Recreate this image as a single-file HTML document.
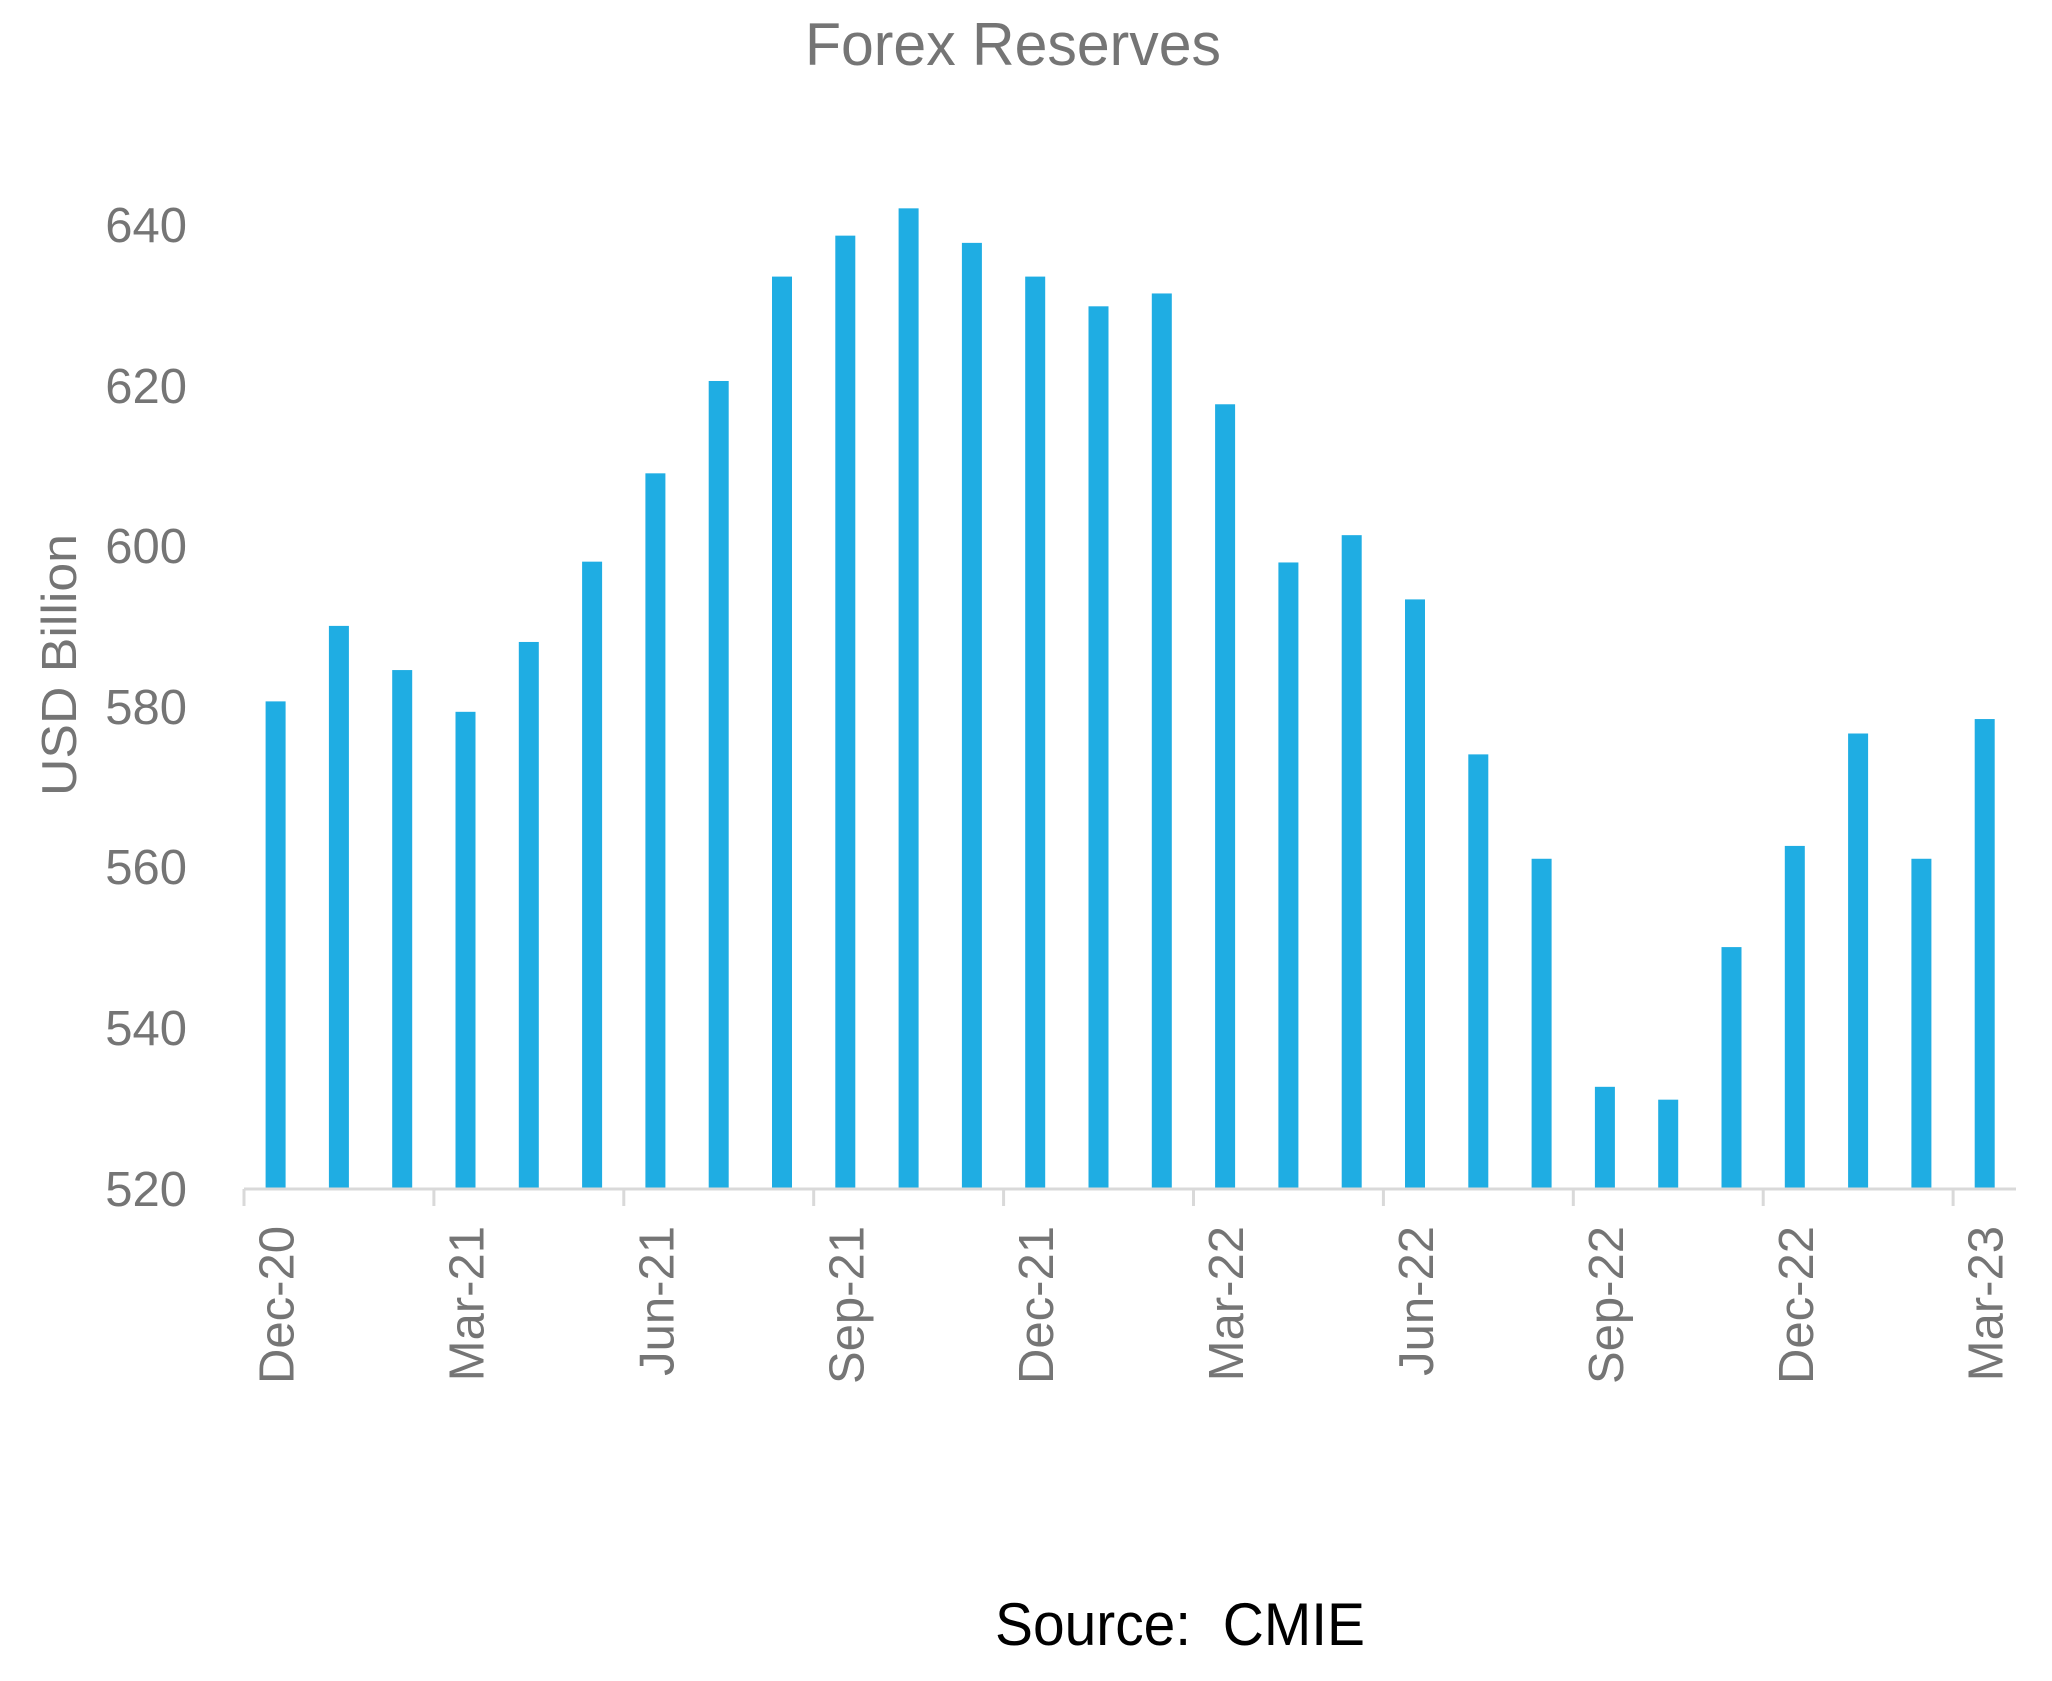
<!DOCTYPE html>
<html><head><meta charset="utf-8"><style>html,body{margin:0;padding:0;background:#fff}svg{display:block}</style></head>
<body>
<svg width="2052" height="1681" xmlns="http://www.w3.org/2000/svg" font-family="'Liberation Sans', sans-serif">
<rect width="2052" height="1681" fill="#fff"/>
<text x="1013" y="65" text-anchor="middle" font-size="60" fill="#757575" textLength="416" lengthAdjust="spacingAndGlyphs">Forex Reserves</text>
<g font-size="49" fill="#757575" text-anchor="end">
<text x="187" y="1206">520</text>
<text x="187" y="1045">540</text>
<text x="187" y="884">560</text>
<text x="187" y="724">580</text>
<text x="187" y="563">600</text>
<text x="187" y="403">620</text>
<text x="187" y="242">640</text>
</g>
<text transform="translate(76,665) rotate(-90)" text-anchor="middle" font-size="49" fill="#757575" textLength="262" lengthAdjust="spacingAndGlyphs">USD Billion</text>
<g id="bars" fill="#1fade3"></g>
<line x1="244" y1="1189" x2="2016" y2="1189" stroke="#d9d9d9" stroke-width="3"/>
<g id="ticks" stroke="#d9d9d9" stroke-width="3"></g>
<g id="xl" font-size="49" fill="#757575" text-anchor="end"></g>
<text x="1180" y="1645" text-anchor="middle" font-size="60" fill="#000" textLength="370" lengthAdjust="spacingAndGlyphs">Source:&#160; CMIE</text>
<script>
var v=[580.6,590,584.5,579.3,588,598,609,620.5,633.5,638.6,642,637.7,633.5,629.8,631.4,617.6,597.9,601.3,593.3,574,561,532.6,531,550,562.6,576.6,561,578.4];
var ns="http://www.w3.org/2000/svg",b=document.getElementById('bars'),t=document.getElementById('ticks'),xl=document.getElementById('xl');
var labs=["Dec-20","Mar-21","Jun-21","Sep-21","Dec-21","Mar-22","Jun-22","Sep-22","Dec-22","Mar-23"];
for(var i=0;i<28;i++){var c=275.6+63.3*i,y=1188-(v[i]-520)*8.03;var r=document.createElementNS(ns,'rect');r.setAttribute('x',c-10);r.setAttribute('y',y);r.setAttribute('width',20);r.setAttribute('height',1188-y);b.appendChild(r);}
for(var k=0;k<10;k++){var x=244+3*k*63.3;var l=document.createElementNS(ns,'line');l.setAttribute('x1',x);l.setAttribute('x2',x);l.setAttribute('y1',1189);l.setAttribute('y2',1206);t.appendChild(l);
var cx=275.6+3*k*63.3+18;var tx=document.createElementNS(ns,'text');tx.setAttribute('transform','translate('+cx+',1226) rotate(-90)');tx.textContent=labs[k];xl.appendChild(tx);}
</script>
</svg>
</body></html>
